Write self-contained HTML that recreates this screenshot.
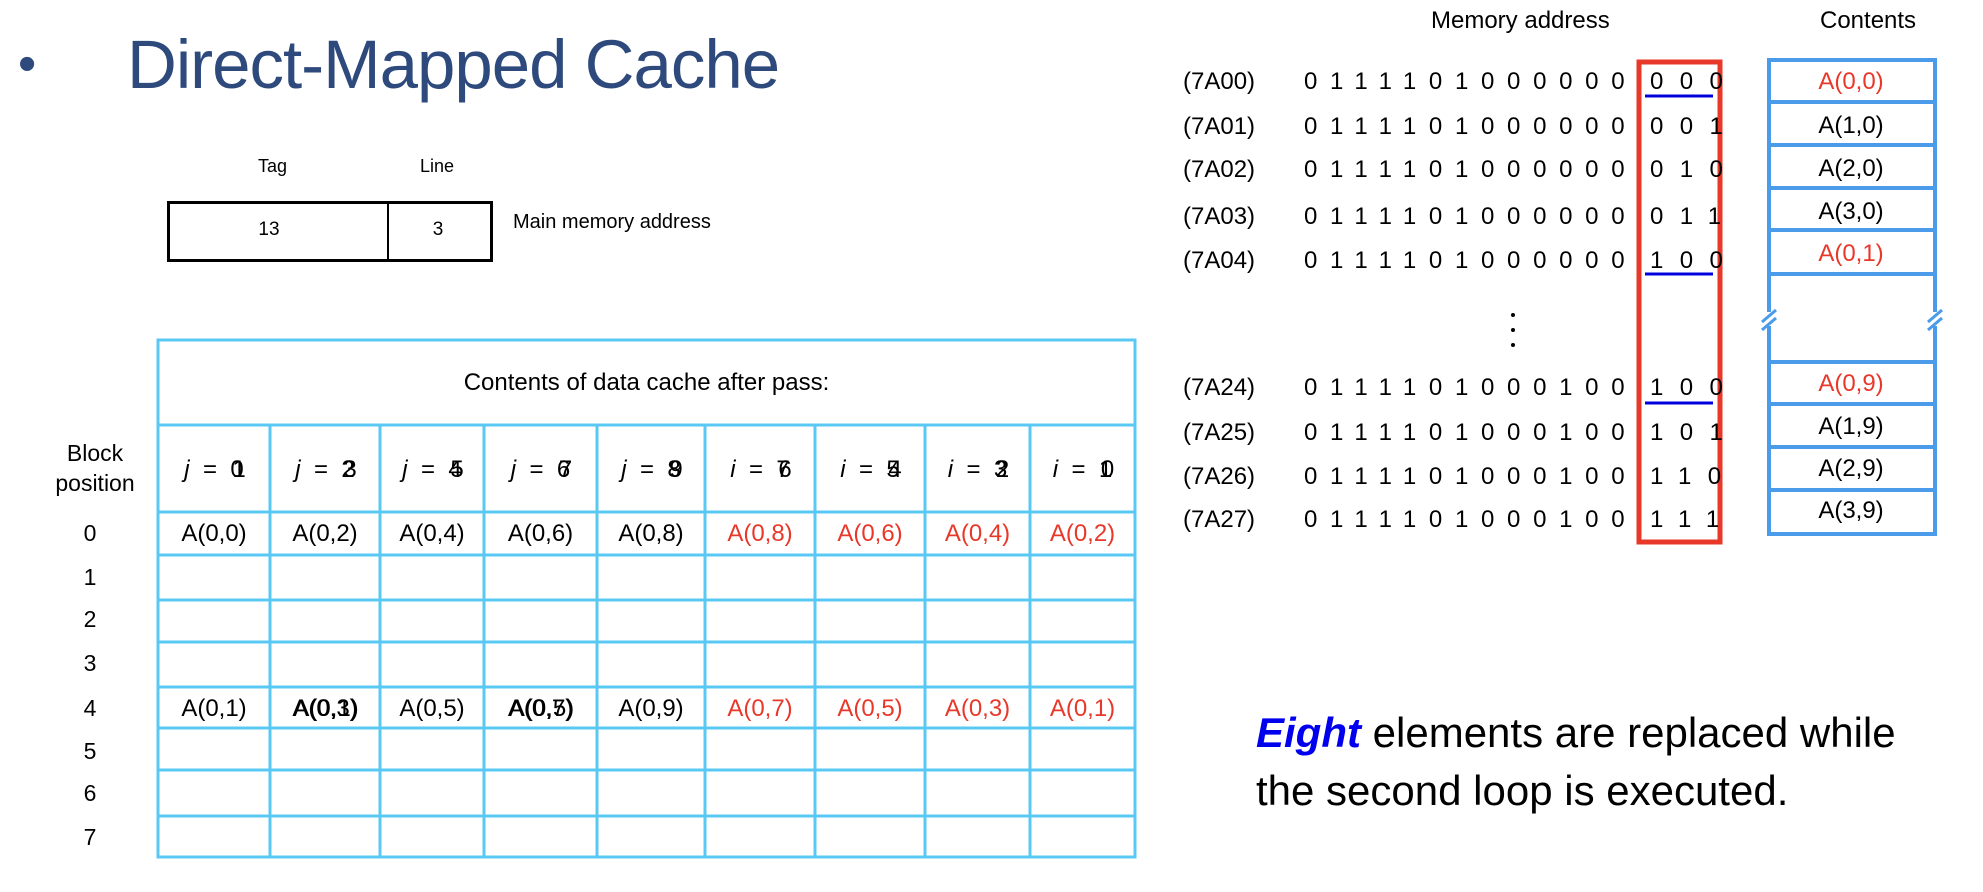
<!DOCTYPE html>
<html><head><meta charset="utf-8">
<style>
body{margin:0;width:1983px;height:892px;background:#fff;position:relative;overflow:hidden;font-family:"Liberation Sans",sans-serif;color:#000}
.a{position:absolute;white-space:nowrap;line-height:1}
.c{text-align:center}
.r{color:#e8382a}
.cell{position:absolute;white-space:nowrap;line-height:1;font-size:24px;text-align:center}
.h{visibility:hidden}
.bits{position:absolute;font-size:24px;line-height:1;letter-spacing:12.7px;white-space:nowrap}
.low{position:absolute;font-size:24px;line-height:1;letter-spacing:16.4px;white-space:nowrap;left:1650px}
.lab{position:absolute;font-size:24px;line-height:1;left:1183px;white-space:nowrap}
.ct{position:absolute;font-size:24px;line-height:1;width:168px;left:1767px;text-align:center}
</style></head><body>

<div class="a" style="left:18px;top:38px;font-size:52px;color:#2e4a7d">•</div>
<div class="a" style="left:127px;top:30px;font-size:69px;color:#2e4a7d;letter-spacing:-1px">Direct-Mapped Cache</div>

<div class="a" style="left:258px;top:157px;font-size:18px">Tag</div>
<div class="a" style="left:420px;top:157px;font-size:18px">Line</div>
<div class="a" style="left:167px;top:201px;width:320px;height:55px;border:3px solid #000"></div>
<div class="a" style="left:387px;top:201px;width:2px;height:58px;background:#000"></div>
<div class="a c" style="left:160px;top:220px;width:218px;font-size:19px">13</div>
<div class="a c" style="left:389px;top:220px;width:98px;font-size:19px">3</div>
<div class="a" style="left:513px;top:212px;font-size:20px">Main memory address</div>

<svg class="a" style="left:0;top:0" width="1983" height="892">
<g stroke="#5ac8f5" stroke-width="3" fill="none">
<rect x="158" y="340" width="977" height="517"/>
<line x1="158" y1="425" x2="1135" y2="425"/>
<line x1="158" y1="512" x2="1135" y2="512"/>
<line x1="158" y1="555" x2="1135" y2="555"/>
<line x1="158" y1="600" x2="1135" y2="600"/>
<line x1="158" y1="642" x2="1135" y2="642"/>
<line x1="158" y1="687" x2="1135" y2="687"/>
<line x1="158" y1="728" x2="1135" y2="728"/>
<line x1="158" y1="770" x2="1135" y2="770"/>
<line x1="158" y1="816" x2="1135" y2="816"/>
<line x1="270" y1="425" x2="270" y2="857"/>
<line x1="380" y1="425" x2="380" y2="857"/>
<line x1="484" y1="425" x2="484" y2="857"/>
<line x1="597" y1="425" x2="597" y2="857"/>
<line x1="705" y1="425" x2="705" y2="857"/>
<line x1="815" y1="425" x2="815" y2="857"/>
<line x1="925" y1="425" x2="925" y2="857"/>
<line x1="1030" y1="425" x2="1030" y2="857"/>
</g>
<rect x="1639" y="62" width="81" height="480" stroke="#e8382a" stroke-width="5" fill="none"/>
<g stroke="#0000dd" stroke-width="3">
<line x1="1645" y1="96" x2="1713" y2="96"/>
<line x1="1645" y1="274" x2="1713" y2="274"/>
<line x1="1645" y1="403" x2="1713" y2="403"/>
</g>
<g stroke="#4a9bea" stroke-width="4" fill="none">
<line x1="1769" y1="60" x2="1769" y2="536"/>
<line x1="1935" y1="60" x2="1935" y2="536"/>
<line x1="1767" y1="60" x2="1937" y2="60"/>
<line x1="1767" y1="102" x2="1937" y2="102"/>
<line x1="1767" y1="145" x2="1937" y2="145"/>
<line x1="1767" y1="188" x2="1937" y2="188"/>
<line x1="1767" y1="230" x2="1937" y2="230"/>
<line x1="1767" y1="274" x2="1937" y2="274"/>
<line x1="1767" y1="362" x2="1937" y2="362"/>
<line x1="1767" y1="404" x2="1937" y2="404"/>
<line x1="1767" y1="447" x2="1937" y2="447"/>
<line x1="1767" y1="490" x2="1937" y2="490"/>
<line x1="1767" y1="534" x2="1937" y2="534"/>
</g>
<g stroke="#fff" stroke-width="8">
<line x1="1769" y1="312" x2="1769" y2="326"/>
<line x1="1935" y1="312" x2="1935" y2="326"/>
</g>
<g stroke="#4a9bea" stroke-width="3">
<line x1="1762" y1="322" x2="1776" y2="310"/><line x1="1762" y1="330" x2="1776" y2="318"/>
<line x1="1928" y1="322" x2="1942" y2="310"/><line x1="1928" y1="330" x2="1942" y2="318"/>
</g>
<g fill="#000"><circle cx="1513" cy="315" r="2"/><circle cx="1513" cy="330" r="2"/><circle cx="1513" cy="345" r="2"/></g>
</svg>

<div class="a c" style="left:158px;top:371px;width:977px;font-size:24px">Contents of data cache after pass:</div>
<div class="a c" style="left:38px;top:438px;width:114px;font-size:23px;line-height:30px;white-space:normal">Block position</div>
<div class="a c" style="left:70px;top:522px;width:40px;font-size:23px">0</div>
<div class="a c" style="left:70px;top:566px;width:40px;font-size:23px">1</div>
<div class="a c" style="left:70px;top:608px;width:40px;font-size:23px">2</div>
<div class="a c" style="left:70px;top:652px;width:40px;font-size:23px">3</div>
<div class="a c" style="left:70px;top:697px;width:40px;font-size:23px">4</div>
<div class="a c" style="left:70px;top:740px;width:40px;font-size:23px">5</div>
<div class="a c" style="left:70px;top:782px;width:40px;font-size:23px">6</div>
<div class="a c" style="left:70px;top:826px;width:40px;font-size:23px">7</div>

<div class="cell" style="left:158px;top:458px;width:112px"><i>j</i> &nbsp;= &nbsp;0</div>
<div class="cell" style="left:160px;top:458px;width:112px"><span class="h"><i>j</i> &nbsp;= &nbsp;</span>1</div>
<div class="cell" style="left:270px;top:458px;width:110px"><i>j</i> &nbsp;= &nbsp;2</div>
<div class="cell" style="left:272px;top:458px;width:110px"><span class="h"><i>j</i> &nbsp;= &nbsp;</span>3</div>
<div class="cell" style="left:380px;top:458px;width:104px"><i>j</i> &nbsp;= &nbsp;4</div>
<div class="cell" style="left:382px;top:458px;width:104px"><span class="h"><i>j</i> &nbsp;= &nbsp;</span>5</div>
<div class="cell" style="left:484px;top:458px;width:113px"><i>j</i> &nbsp;= &nbsp;6</div>
<div class="cell" style="left:486px;top:458px;width:113px"><span class="h"><i>j</i> &nbsp;= &nbsp;</span>7</div>
<div class="cell" style="left:597px;top:458px;width:108px"><i>j</i> &nbsp;= &nbsp;8</div>
<div class="cell" style="left:599px;top:458px;width:108px"><span class="h"><i>j</i> &nbsp;= &nbsp;</span>9</div>
<div class="cell" style="left:705px;top:458px;width:110px"><i>i</i> &nbsp;= &nbsp;7</div>
<div class="cell" style="left:707px;top:458px;width:110px"><span class="h"><i>i</i> &nbsp;= &nbsp;</span>6</div>
<div class="cell" style="left:815px;top:458px;width:110px"><i>i</i> &nbsp;= &nbsp;5</div>
<div class="cell" style="left:817px;top:458px;width:110px"><span class="h"><i>i</i> &nbsp;= &nbsp;</span>4</div>
<div class="cell" style="left:925px;top:458px;width:105px"><i>i</i> &nbsp;= &nbsp;3</div>
<div class="cell" style="left:927px;top:458px;width:105px"><span class="h"><i>i</i> &nbsp;= &nbsp;</span>2</div>
<div class="cell" style="left:1030px;top:458px;width:105px"><i>i</i> &nbsp;= &nbsp;1</div>
<div class="cell" style="left:1032px;top:458px;width:105px"><span class="h"><i>i</i> &nbsp;= &nbsp;</span>0</div>

<div class="cell" style="left:158px;top:522px;width:112px">A(0,0)</div>
<div class="cell" style="left:270px;top:522px;width:110px">A(0,2)</div>
<div class="cell" style="left:380px;top:522px;width:104px">A(0,4)</div>
<div class="cell" style="left:484px;top:522px;width:113px">A(0,6)</div>
<div class="cell" style="left:597px;top:522px;width:108px">A(0,8)</div>
<div class="cell r" style="left:705px;top:522px;width:110px">A(0,8)</div>
<div class="cell r" style="left:815px;top:522px;width:110px">A(0,6)</div>
<div class="cell r" style="left:925px;top:522px;width:105px">A(0,4)</div>
<div class="cell r" style="left:1030px;top:522px;width:105px">A(0,2)</div>

<div class="cell" style="left:158px;top:697px;width:112px">A(0,1)</div>
<div class="cell" style="left:270px;top:697px;width:110px">A(0,3)</div>
<div class="cell" style="left:271px;top:697px;width:110px">A(0,1)</div>
<div class="cell" style="left:380px;top:697px;width:104px">A(0,5)</div>
<div class="cell" style="left:484px;top:697px;width:113px">A(0,7)</div>
<div class="cell" style="left:485px;top:697px;width:113px">A(0,5)</div>
<div class="cell" style="left:597px;top:697px;width:108px">A(0,9)</div>
<div class="cell r" style="left:705px;top:697px;width:110px">A(0,7)</div>
<div class="cell r" style="left:815px;top:697px;width:110px">A(0,5)</div>
<div class="cell r" style="left:925px;top:697px;width:105px">A(0,3)</div>
<div class="cell r" style="left:1030px;top:697px;width:105px">A(0,1)</div>

<div class="a" style="left:1431px;top:9px;font-size:24px">Memory address</div>
<div class="a" style="left:1820px;top:9px;font-size:24px">Contents</div>

<div class="lab" style="top:70px">(7A00)</div><div class="bits" style="left:1304px;top:70px">0111101000000</div><div class="low" style="top:70px">000</div>
<div class="lab" style="top:115px">(7A01)</div><div class="bits" style="left:1304px;top:115px">0111101000000</div><div class="low" style="top:115px">001</div>
<div class="lab" style="top:158px">(7A02)</div><div class="bits" style="left:1304px;top:158px">0111101000000</div><div class="low" style="top:158px">010</div>
<div class="lab" style="top:205px">(7A03)</div><div class="bits" style="left:1304px;top:205px">0111101000000</div><div class="low" style="top:205px">011</div>
<div class="lab" style="top:249px">(7A04)</div><div class="bits" style="left:1304px;top:249px">0111101000000</div><div class="low" style="top:249px">100</div>
<div class="lab" style="top:376px">(7A24)</div><div class="bits" style="left:1304px;top:376px">0111101000100</div><div class="low" style="top:376px">100</div>
<div class="lab" style="top:421px">(7A25)</div><div class="bits" style="left:1304px;top:421px">0111101000100</div><div class="low" style="top:421px">101</div>
<div class="lab" style="top:465px">(7A26)</div><div class="bits" style="left:1304px;top:465px">0111101000100</div><div class="low" style="top:465px">110</div>
<div class="lab" style="top:508px">(7A27)</div><div class="bits" style="left:1304px;top:508px">0111101000100</div><div class="low" style="top:508px">111</div>

<div class="ct r" style="top:70px">A(0,0)</div>
<div class="ct" style="top:114px">A(1,0)</div>
<div class="ct" style="top:157px">A(2,0)</div>
<div class="ct" style="top:200px">A(3,0)</div>
<div class="ct r" style="top:242px">A(0,1)</div>
<div class="ct r" style="top:372px">A(0,9)</div>
<div class="ct" style="top:415px">A(1,9)</div>
<div class="ct" style="top:457px">A(2,9)</div>
<div class="ct" style="top:499px">A(3,9)</div>

<div class="a" style="left:1256px;top:712px;font-size:42px"><b><i style="color:#0000ee">Eight</i></b> elements are replaced while</div>
<div class="a" style="left:1256px;top:770px;font-size:42px">the second loop is executed.</div>
</body></html>
